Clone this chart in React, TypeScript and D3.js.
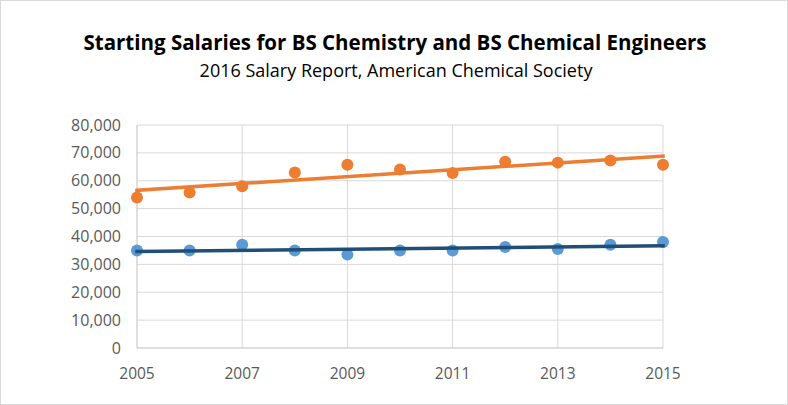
import React, { useEffect, useRef } from 'react';
import * as d3 from 'd3';

const years = [2005, 2006, 2007, 2008, 2009, 2010, 2011, 2012, 2013, 2014, 2015];
const chemEng = [54000, 55800, 58000, 63000, 65700, 64000, 62800, 66800, 66500, 67300, 65700];
const chemistry = [35000, 35000, 37000, 35000, 33500, 35000, 35000, 36200, 35500, 37000, 38000];
const yTicks = [0, 10000, 20000, 30000, 40000, 50000, 60000, 70000, 80000];
const xTicks = [2005, 2007, 2009, 2011, 2013, 2015];

// least-squares trend line, like the spreadsheet's linear trendline
const fit = (xs: number[], ys: number[]) => {
  const mx = d3.mean(xs)!;
  const my = d3.mean(ys)!;
  const num = d3.sum(xs, (x, i) => (x - mx) * (ys[i] - my));
  const den = d3.sum(xs, x => (x - mx) ** 2);
  const b = num / den;
  return (x: number) => my + b * (x - mx);
};

const App: React.FC = () => {
  const ref = useRef<SVGSVGElement | null>(null);

  useEffect(() => {
    document.body.style.margin = '0';
    const width = 788;
    const height = 405;
    const font = '"Open Sans", sans-serif';

    const svg = d3.select(ref.current)
      .attr('width', width)
      .attr('height', height)
      .style('display', 'block')
      .style('background', '#fff');
    svg.selectAll('*').remove();

    svg.append('rect')
      .attr('x', 0.5).attr('y', 0.5)
      .attr('width', width - 1).attr('height', height - 1)
      .attr('fill', 'none').attr('stroke', '#d9d9d9');

    const x = d3.scaleLinear().domain([2005, 2015]).range([137, 663]);
    const y = d3.scaleLinear().domain([0, 80000]).range([348, 125]);

    const grid = svg.append('g');
    grid.selectAll('line.h')
      .data(yTicks.slice(1))
      .join('line')
      .attr('x1', x(2005)).attr('x2', x(2015))
      .attr('y1', d => y(d)).attr('y2', d => y(d))
      .attr('stroke', '#d9d9d9').attr('stroke-width', 1);
    grid.selectAll('line.v')
      .data(xTicks.slice(1))
      .join('line')
      .attr('x1', d => x(d)).attr('x2', d => x(d))
      .attr('y1', y(0)).attr('y2', y(80000))
      .attr('stroke', '#d9d9d9').attr('stroke-width', 1);

    svg.append('line')
      .attr('x1', x(2005)).attr('x2', x(2015))
      .attr('y1', y(0)).attr('y2', y(0))
      .attr('stroke', '#bfbfbf');
    svg.append('line')
      .attr('x1', x(2005)).attr('x2', x(2005))
      .attr('y1', y(0)).attr('y2', y(80000))
      .attr('stroke', '#bfbfbf');

    svg.append('g').selectAll('text')
      .data(yTicks)
      .join('text')
      .attr('x', 121).attr('y', d => y(d))
      .attr('dy', '0.35em')
      .attr('text-anchor', 'end')
      .attr('fill', '#595959')
      .style('font-family', font).style('font-size', '16px')
      .text(d => d3.format(',')(d));

    svg.append('g').selectAll('text')
      .data(xTicks)
      .join('text')
      .attr('x', d => x(d)).attr('y', 379)
      .attr('text-anchor', 'middle')
      .attr('fill', '#595959')
      .style('font-family', font).style('font-size', '15.5px')
      .text(d => d);

    const series = [
      { vals: chemEng, dot: '#ed7d31', line: '#ed7d31' },
      { vals: chemistry, dot: '#5b9bd5', line: '#1f4e79' },
    ];

    series.forEach(s => {
      svg.append('g').selectAll('circle')
        .data(years)
        .join('circle')
        .attr('cx', d => x(d))
        .attr('cy', (d, i) => y(s.vals[i]))
        .attr('r', 6)
        .attr('fill', s.dot);
      const f = fit(years, s.vals);
      svg.append('line')
        .attr('x1', x(2005)).attr('x2', x(2015))
        .attr('y1', y(f(2005))).attr('y2', y(f(2015)))
        .attr('stroke', s.line).attr('stroke-width', 3.5)
        .attr('stroke-linecap', 'square');
    });

    svg.append('text')
      .attr('x', 395).attr('y', 50)
      .attr('text-anchor', 'middle')
      .attr('fill', '#000')
      .style('font-family', font).style('font-size', '20.5px').style('font-weight', 'bold')
      .text('Starting Salaries for BS Chemistry and BS Chemical Engineers');
    svg.append('text')
      .attr('x', 396).attr('y', 77)
      .attr('text-anchor', 'middle')
      .attr('fill', '#000')
      .style('font-family', font).style('font-size', '18px')
      .text('2016 Salary Report, American Chemical Society');
  }, []);

  return <svg ref={ref}></svg>;
};

export default App;
